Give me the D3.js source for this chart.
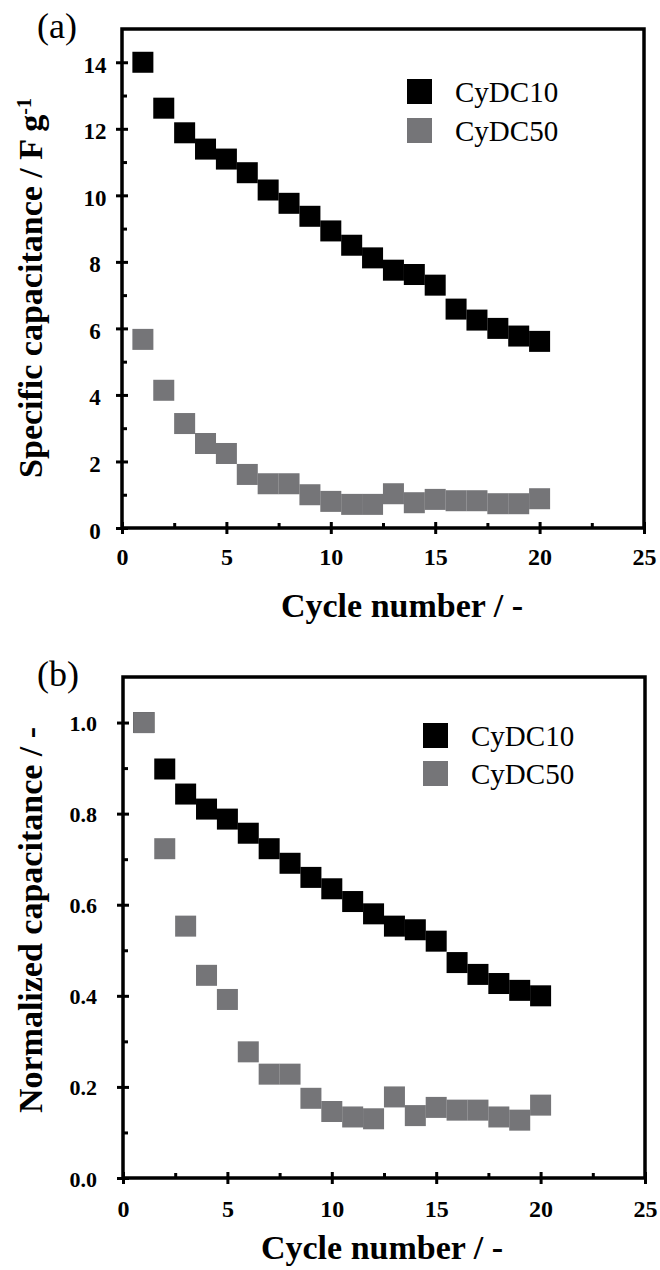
<!DOCTYPE html>
<html>
<head>
<meta charset="utf-8">
<script src="https://cdn.jsdelivr.net/npm/d3@7/dist/d3.min.js"></script>
<style>
body { margin: 0; background: #fff; }
text { font-family: "Liberation Serif", "Times New Roman", serif; fill: #000; }
</style>
</head>
<body>
<script>
// cycle numbers shared by both panels
var cycles = [1, 2, 3, 4, 5, 6, 7, 8, 9, 10, 11, 12, 13, 14, 15, 16, 17, 18, 19, 20];

// (a) specific capacitance, F/g
var capCyDC10 = [14.0, 12.62, 11.88, 11.39, 11.09, 10.68, 10.16, 9.76, 9.37, 8.93,
                 8.5, 8.12, 7.75, 7.62, 7.3, 6.58, 6.25, 6.0, 5.77, 5.61];
var capCyDC50 = [5.67, 4.14, 3.14, 2.54, 2.24, 1.61, 1.33, 1.33, 1.0, 0.8,
                 0.71, 0.71, 1.03, 0.76, 0.86, 0.82, 0.82, 0.73, 0.73, 0.88];

// (b) normalized capacitance
var normCyDC10 = [1.0, 0.898, 0.843, 0.81, 0.788, 0.757, 0.723, 0.691, 0.66, 0.635,
                  0.607, 0.58, 0.553, 0.545, 0.52, 0.473, 0.447, 0.427, 0.412, 0.40];
var normCyDC50 = [1.0, 0.723, 0.553, 0.445, 0.392, 0.277, 0.228, 0.228, 0.175, 0.146,
                  0.134, 0.13, 0.178, 0.137, 0.155, 0.149, 0.149, 0.134, 0.127, 0.16];

var seriesNames = ["CyDC10", "CyDC50"];
var seriesColors = ["#000000", "#757578"];

// tick labels
var xMajor = [0, 5, 10, 15, 20, 25];
var xMinor = [2.5, 7.5, 12.5, 17.5, 22.5];
var yMajorA = [0, 2, 4, 6, 8, 10, 12, 14];
var yMinorA = [1, 3, 5, 7, 9, 11, 13];
var yMajorB = [0, 0.2, 0.4, 0.6, 0.8, 1.0];
var yMinorB = [0.1, 0.3, 0.5, 0.7, 0.9];

var w = 660;
var h = 1270;
var msize = 21;

var svg = d3.select("body")
    .append("svg")
    .attr("width", w)
    .attr("height", h);

function drawPanel(p) {
    var x = d3.scaleLinear().domain([0, 25]).range([p.left, p.right]);
    var y = d3.scaleLinear().domain(p.yDomain).range([p.bottom, p.top]);
    var g = svg.append("g");

    // minor ticks point inward only
    g.append("g")
        .attr("transform", "translate(0," + p.bottom + ")")
        .call(d3.axisBottom(x).tickValues(xMinor).tickSize(-5).tickFormat(""));
    g.append("g")
        .attr("transform", "translate(" + p.left + ",0)")
        .call(d3.axisLeft(y).tickValues(p.yMinor).tickSize(-5).tickFormat(""));

    // major ticks cross the axis line
    var xAx = g.append("g")
        .attr("transform", "translate(0," + p.bottom + ")")
        .call(d3.axisBottom(x).tickValues(xMajor).tickSize(6));
    xAx.selectAll(".tick line").attr("y1", -6);
    xAx.selectAll("text")
        .attr("y", p.xLabelDy)
        .attr("dy", null)
        .style("font-size", p.xTickFont + "px")
        .style("font-weight", "bold");

    var yAx = g.append("g")
        .attr("transform", "translate(" + p.left + ",0)")
        .call(d3.axisLeft(y).tickValues(p.yMajor).tickSize(6).tickFormat(p.yFormat));
    yAx.selectAll(".tick line").attr("x1", 6);
    yAx.selectAll("text")
        .attr("x", p.yLabelX)
        .attr("y", p.yLabelDy)
        .attr("dy", null)
        .attr("text-anchor", p.yAnchor)
        .style("font-size", p.yTickFont + "px")
        .style("font-weight", "bold");

    g.selectAll(".tick line").attr("stroke", "#000").attr("stroke-width", 3);
    g.selectAll(".domain").remove();

    // frame
    g.append("rect")
        .attr("x", p.left)
        .attr("y", p.top)
        .attr("width", p.right - p.left)
        .attr("height", p.bottom - p.top)
        .attr("fill", "none")
        .attr("stroke", "#000")
        .attr("stroke-width", 3.5);

    // markers, black first so grey sits on top
    p.series.forEach(function(vals, si) {
        g.append("g")
            .selectAll("rect")
            .data(vals)
            .enter()
            .append("rect")
            .attr("fill", seriesColors[si])
            .attr("width", msize)
            .attr("height", msize)
            .attr("x", function(d, i) {
                return x(cycles[i]) - msize / 2;
            })
            .attr("y", function(d) {
                return y(d) - msize / 2;
            });
    });

    // legend
    seriesNames.forEach(function(name, si) {
        var ly = p.legendY + si * p.legendGap;
        g.append("rect")
            .attr("x", p.legendX)
            .attr("y", ly)
            .attr("width", 25)
            .attr("height", 25)
            .attr("fill", seriesColors[si]);
        g.append("text")
            .attr("x", p.legendX + 48)
            .attr("y", ly + 23)
            .style("font-size", "29px")
            .text(name);
    });

    // panel letter
    g.append("text")
        .attr("x", 37)
        .attr("y", p.top + 9)
        .style("font-size", "36px")
        .text(p.letter);

    // axis titles
    g.append("text")
        .attr("x", p.xTitleX)
        .attr("y", p.xTitleY)
        .attr("text-anchor", "middle")
        .style("font-size", "34px")
        .style("font-weight", "bold")
        .text("Cycle number / -");

    var yt = g.append("text")
        .attr("transform", "translate(42," + p.yTitleY + ") rotate(-90)")
        .attr("text-anchor", "middle")
        .style("font-size", "34px")
        .style("font-weight", "bold")
        .text(p.yTitle);
    if (p.yTitleSup) {
        yt.append("tspan")
            .attr("baseline-shift", "super")
            .style("font-size", "20px")
            .text(p.yTitleSup);
    }
}

drawPanel({
    letter: "(a)",
    left: 122, right: 644, top: 29, bottom: 528,
    yDomain: [0, 15],
    yMajor: yMajorA, yMinor: yMinorA,
    yFormat: d3.format("d"),
    series: [capCyDC10, capCyDC50],
    xLabelDy: 37, xTickFont: 24,
    yLabelX: -27, yLabelDy: 10, yAnchor: "middle", yTickFont: 23,
    legendX: 407, legendY: 79, legendGap: 39,
    xTitleX: 402, xTitleY: 617,
    yTitle: "Specific capacitance / F g", yTitleSup: "-1",
    yTitleY: 288
});

drawPanel({
    letter: "(b)",
    left: 123, right: 645, top: 677, bottom: 1178,
    yDomain: [0, 1.1],
    yMajor: yMajorB, yMinor: yMinorB,
    yFormat: d3.format(".1f"),
    series: [normCyDC10, normCyDC50],
    xLabelDy: 39, xTickFont: 24,
    yLabelX: -26, yLabelDy: 8, yAnchor: "end", yTickFont: 22,
    legendX: 423, legendY: 723, legendGap: 38,
    xTitleX: 382, xTitleY: 1259,
    yTitle: "Normalized capacitance / -", yTitleSup: null,
    yTitleY: 920
});
</script>
</body>
</html>
